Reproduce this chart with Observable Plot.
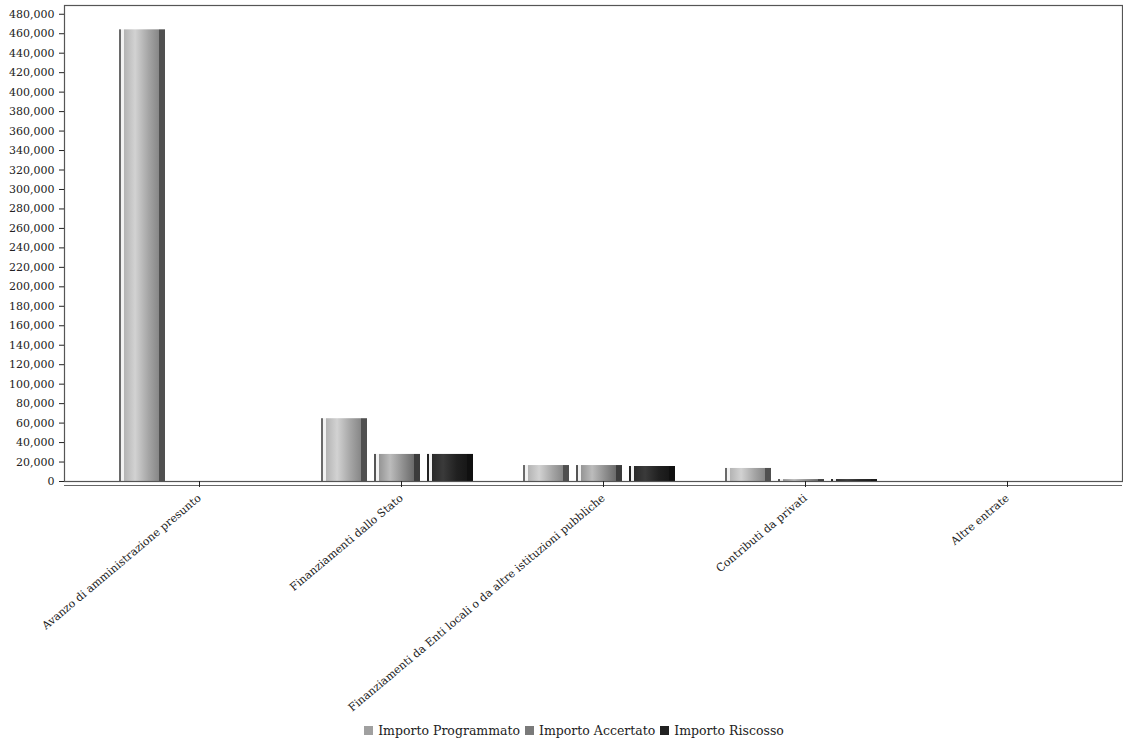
<!DOCTYPE html>
<html>
<head>
<meta charset="utf-8">
<script src="https://cdn.jsdelivr.net/npm/d3@7"></script>
<script src="https://cdn.jsdelivr.net/npm/@observablehq/plot@0.6"></script>
<style>
  html, body { margin: 0; padding: 0; background: #fff; }
  #chart svg { display: block; }
  #legend { font-family: "DejaVu Serif", serif; font-size: 12.5px; color: #222; text-align: center; height: 14px; line-height: 14px; margin-top: -4px; padding-left: 20px; }
  #legend span.sw { display: inline-block; width: 9px; height: 9px; margin: 0 5px 0 5px; vertical-align: 0px; }
</style>
</head>
<body>
<div id="chart"></div>
<div id="legend"></div>
<script>
const categories = [
  "Avanzo di amministrazione presunto",
  "Finanziamenti dallo Stato",
  "Finanziamenti da Enti locali o da altre istituzioni pubbliche",
  "Contributi da privati",
  "Altre entrate"
];
const seriesNames = ["Importo Programmato", "Importo Accertato", "Importo Riscosso"];
const programmato = [464000, 64500, 16400, 13400, 0];
const accertato   = [0, 27800, 16400, 2000, 0];
const riscosso    = [0, 27800, 15400, 2000, 0];
const yTicks = d3.range(0, 480001, 20000);

const seriesValues = [programmato, accertato, riscosso];
const table = [];
seriesNames.forEach((s, si) => categories.forEach((c, ci) => table.push({category: c, series: s, value: seriesValues[si][ci]})));

const gradIds = ["gProg", "gAcc", "gRisc"];
const legendColors = ["#a0a0a0", "#7a7a7a", "#222222"];

const barMarks = seriesNames.map((s, i) => Plot.barY(table.filter(d => d.series === s), {
  x: "category", y: "value", fill: `url(#${gradIds[i]})`,
  insetLeft: 53 * i + 3, insetRight: 109 - 53 * i
}));

const chart = Plot.plot({
  width: 1123,
  height: 728,
  marginLeft: 64,
  marginRight: 1,
  marginTop: 5,
  marginBottom: 247,
  style: {fontFamily: "DejaVu Serif, serif", fontSize: "11px", color: "#222", background: "transparent"},
  x: {domain: categories, padding: 0.217, align: 0.5625, label: null},
  y: {domain: [0, 489000], label: null},
  marks: [
    ...barMarks,
    Plot.frame({stroke: "#555", strokeWidth: 1.2}),
    Plot.ruleY([0], {stroke: "#666", dy: 4}),
    Plot.axisY({ticks: yTicks, tickFormat: d3.format(","), tickSize: 5, tickPadding: 5, label: null, fontSize: 11}),
    Plot.axisX({tickRotate: -40, tickSize: 6, tickPadding: 9, dx: 4, label: null, fontSize: 11})
  ]
});

// gradients giving the cylinder look
const ns = "http://www.w3.org/2000/svg";
const defs = document.createElementNS(ns, "defs");
const gradStops = [
  [["0", "#6a6a6a"], ["0.04", "#6a6a6a"], ["0.045", "#f2f2f2"], ["0.1", "#f2f2f2"], ["0.11", "#b4b4b4"], ["0.35", "#d2d2d2"], ["0.65", "#a4a4a4"], ["0.86", "#888888"], ["0.87", "#505050"], ["1", "#505050"]],
  [["0", "#555"], ["0.04", "#555"], ["0.045", "#f2f2f2"], ["0.1", "#f2f2f2"], ["0.11", "#959595"], ["0.35", "#bcbcbc"], ["0.65", "#8c8c8c"], ["0.86", "#6c6c6c"], ["0.87", "#3c3c3c"], ["1", "#3c3c3c"]],
  [["0", "#222"], ["0.04", "#222"], ["0.045", "#f2f2f2"], ["0.1", "#f2f2f2"], ["0.11", "#2a2a2a"], ["0.35", "#3a3a3a"], ["0.65", "#202020"], ["0.86", "#181818"], ["0.87", "#101010"], ["1", "#101010"]]
];
gradIds.forEach((id, i) => {
  const g = document.createElementNS(ns, "linearGradient");
  g.setAttribute("id", id);
  g.setAttribute("x1", "0"); g.setAttribute("x2", "1"); g.setAttribute("y1", "0"); g.setAttribute("y2", "0");
  gradStops[i].forEach(([o, c]) => {
    const st = document.createElementNS(ns, "stop");
    st.setAttribute("offset", o); st.setAttribute("stop-color", c);
    g.appendChild(st);
  });
  defs.appendChild(g);
});
chart.insertBefore(defs, chart.firstChild);
document.getElementById("chart").appendChild(chart);

const legend = document.getElementById("legend");
seriesNames.forEach((s, i) => {
  const sw = document.createElement("span");
  sw.className = "sw";
  sw.style.background = legendColors[i];
  legend.appendChild(sw);
  legend.appendChild(document.createTextNode(s));
});
</script>
</body>
</html>
